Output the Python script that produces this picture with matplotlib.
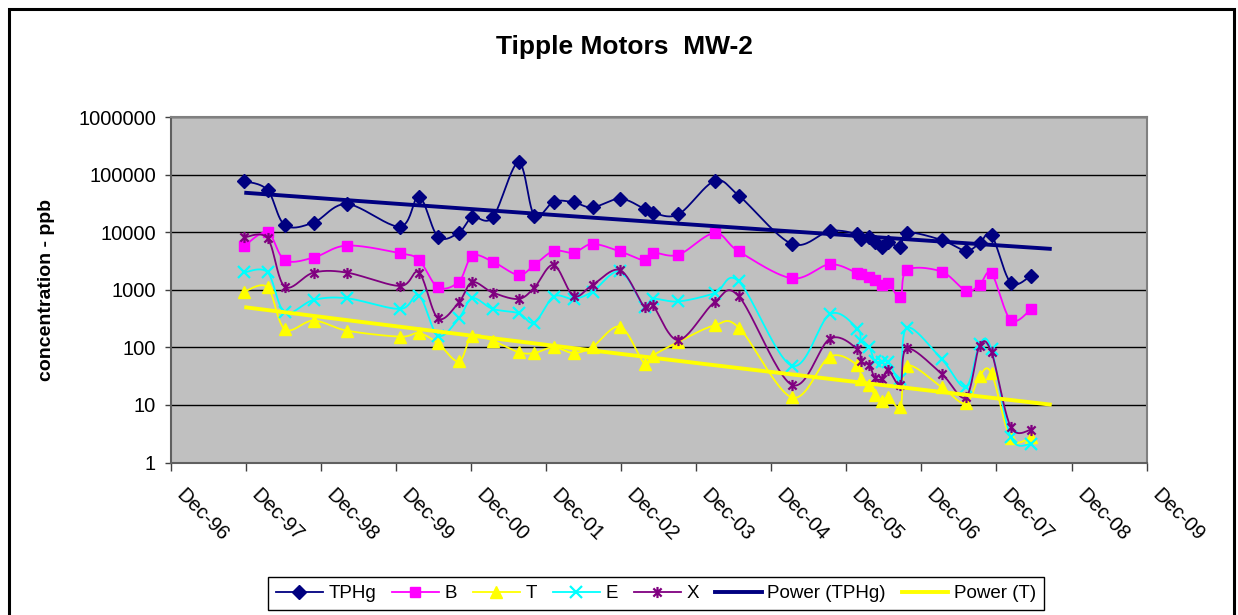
import matplotlib
matplotlib.use('Agg')
import numpy as np
import pandas as pd
import matplotlib.pyplot as plt
import matplotlib.dates as mdates
import matplotlib.transforms as mtransforms
from matplotlib.path import Path
from matplotlib.lines import Line2D
from matplotlib.patches import Rectangle

plt.rcParams['font.family'] = ['Liberation Sans', 'DejaVu Sans']

# ---------------- data ----------------
sample_dates = ['1997-11-24', '1998-03-17', '1998-06-09', '1998-10-27', '1999-04-07',
                '1999-12-22', '2000-03-23', '2000-06-23', '2000-10-03', '2000-12-07',
                '2001-03-17', '2001-07-20', '2001-10-05', '2002-01-07', '2002-04-14',
                '2002-07-15', '2002-11-27', '2003-03-25', '2003-05-04', '2003-09-06',
                '2004-02-29', '2004-06-26', '2005-03-11', '2005-09-11', '2006-01-24',
                '2006-02-10', '2006-03-23', '2006-04-17', '2006-05-22', '2006-06-23',
                '2006-08-21', '2006-09-22', '2007-03-09', '2007-07-05', '2007-09-10',
                '2007-11-07', '2008-02-08', '2008-05-18']
tphg = [78000, 54500, 13400, 14800, 31100, 12600, 41800, 8400, 9900, 18300,
        18300, 165000, 19500, 34200, 33300, 27200, 38500, 25500, 22000, 20600,
        78000, 43500, 6300, 10600, 9250, 7580, 8200, 6900, 5650, 6700,
        5650, 9900, 7380, 4820, 6460, 9000, 1340, 1770]
benz = [5800, 10000, 3300, 3640, 5900, 4330, 3300, 1110, 1390, 3890,
        3100, 1820, 2715, 4750, 4450, 6290, 4650, 3270, 4430, 4080,
        9730, 4650, 1590, 2790, 1945, 1880, 1700, 1490, 1220, 1310,
        745, 2220, 2080, 972, 1220, 1945, 300, 461]
tol = [934, 1110, 207, 293, 196, 154, 177, 118, 57, 160,
       130, 83, 80, 101, 80, 103, 229, 52, 72, 125,
       242, 221, 13.5, 69, 49, 28, 22, 15, 11.5, 14,
       9.2, 48, 20.5, 10.7, 32, 35.5, 2.65, 2.76]
ethyl = [2020, 2020, 409, 669, 716, 467, 796, 161, 321, 716,
         467, 393, 270, 765, 697, 934, 2100, 500, 698, 630,
         877, 1400, 48, 377, 212, 130, 100, 59, 56, 56,
         28.6, 220, 63, 20.6, 114, 93, 2.8, 2.1]
xyl = [8200, 7890, 1140, 2000, 2000, 1170, 2000, 321, 610, 1360,
       898, 697, 1097, 2715, 786, 1220, 2200, 500, 540, 134,
       615, 770, 22.4, 141, 93, 57, 49, 30, 28, 40,
       22.4, 96, 35, 13.6, 106, 82, 4.2, 3.7]
series_names = ['TPHg', 'B', 'T', 'E', 'X']
trend_names = ['Power (TPHg)', 'Power (T)']
tick_years = list(range(1996, 2010))
y_ticks = [1, 10, 100, 1000, 10000, 100000, 1000000]
title = 'Tipple Motors  MW-2'
ylabel = 'concentration - ppb'

# ---------------- helpers ----------------
def smooth(xs, ys, n=24):
    P = np.column_stack([np.asarray(xs, float), np.log10(np.asarray(ys, float))])
    segs = []
    m = len(P)
    for i in range(m - 1):
        p0 = P[max(i - 1, 0)]; p1 = P[i]; p2 = P[i + 1]; p3 = P[min(i + 2, m - 1)]
        c1 = p1 + (p2 - p0) / 6.0
        c2 = p2 - (p3 - p1) / 6.0
        t = np.linspace(0, 1, n)[:, None]
        B = ((1 - t) ** 3) * p1 + 3 * ((1 - t) ** 2) * t * c1 + 3 * (1 - t) * t ** 2 * c2 + t ** 3 * p2
        segs.append(B if i == m - 2 else B[:-1])
    S = np.vstack(segs)
    return S[:, 0], 10 ** S[:, 1]

# Excel serial-date based power fit
EXCEL_EPOCH = pd.Timestamp('1899-12-30')
def power_trend(dts, ys, forward_days=100, n=200):
    serial = np.array([(d - EXCEL_EPOCH).days for d in dts], float)
    b, lna = np.polyfit(np.log(serial), np.log(np.asarray(ys, float)), 1)
    xs = np.linspace(serial.min(), serial.max() + forward_days, n)
    yv = np.exp(lna) * xs ** b
    dnum = mdates.date2num(EXCEL_EPOCH) + xs
    return dnum, yv

# asterisk marker (x + vertical bar)
ast = Path([(-1, -1), (1, 1), (-1, 1), (1, -1), (0, -1.35), (0, 1.35)],
           [Path.MOVETO, Path.LINETO, Path.MOVETO, Path.LINETO, Path.MOVETO, Path.LINETO])

W, H = 1238, 615
fig = plt.figure(figsize=(W / 100, H / 100), dpi=100)
L, R, T, Bt = 170.7, 1146.7, 117.3, 462.5
ax = fig.add_axes([L / W, 1 - Bt / H, (R - L) / W, (Bt - T) / H])
ax.set_facecolor('#C0C0C0')

dts = pd.to_datetime(sample_dates)
xd = mdates.date2num(dts)

styles = [
    dict(color='#000080', marker='D', ms=7.5, mfc='#000080', mec='#000080', mew=1),
    dict(color='#FF00FF', marker='s', ms=7.5, mfc='#FF00FF', mec='#FF00FF', mew=1),
    dict(color='#FFFF00', marker='^', ms=9, mfc='#FFFF00', mec='#FFFF00', mew=1),
    dict(color='#00FFFF', marker='x', ms=8, mfc='none', mec='#00FFFF', mew=1.6),
    dict(color='#800080', marker=ast, ms=8, mfc='none', mec='#800080', mew=1.6),
]
all_vals = [tphg, benz, tol, ethyl, xyl]
handles = []
for k, (vals, st) in enumerate(zip(all_vals, styles)):
    sx, sy = smooth(xd, vals)
    ax.plot(sx, sy, color=st['color'], lw=1.3, zorder=3 + k)
    ax.plot(xd, vals, ls='none', marker=st['marker'], ms=st['ms'], mfc=st['mfc'],
            mec=st['mec'], mew=st['mew'], zorder=3 + k)
    handles.append(Line2D([], [], color=st['color'], lw=1.3, marker=st['marker'], ms=st['ms'],
                          mfc=st['mfc'], mec=st['mec'], mew=st['mew']))

for vals, col in [(tphg, '#000080'), (tol, '#FFFF00')]:
    tx, ty = power_trend(dts, vals)
    ax.plot(tx, ty, color=col, lw=2.8, zorder=10, solid_capstyle='butt')
    handles.append(Line2D([], [], color=col, lw=2.8))

ax.set_yscale('log')
ax.set_ylim(1, 1e6)
ax.set_yticks(y_ticks)
ax.set_yticklabels([str(v) for v in y_ticks])
ax.yaxis.set_minor_locator(matplotlib.ticker.NullLocator())
ax.yaxis.grid(True, which='major', color='black', lw=1.0)
ax.set_axisbelow(True)

xt = [mdates.date2num(pd.Timestamp(f'{y}-12-01')) for y in tick_years]
ax.set_xlim(xt[0], xt[-1])
ax.set_xticks(xt)
ax.set_xticklabels([pd.Timestamp(f'{y}-12-01').strftime('%b-%y') for y in tick_years])
ax.xaxis.set_minor_locator(matplotlib.ticker.NullLocator())

for s in ax.spines.values():
    s.set_color('#808080')
    s.set_linewidth(1.5)
ax.spines['bottom'].set_color('#606060')
ax.spines['left'].set_color('#606060')

ax.tick_params(axis='y', direction='out', length=4.5, width=1, color='#404040',
               labelsize=14.5, pad=6)
ax.tick_params(axis='x', direction='out', length=5.5, width=1, color='#404040',
               labelsize=14.5, pad=11)
off = mtransforms.ScaledTranslation(15 / 100, 0, fig.dpi_scale_trans)
for lab in ax.get_xticklabels():
    lab.set_rotation(-45)
    lab.set_ha('left')
    lab.set_va('top')
    lab.set_rotation_mode('anchor')
    lab.set_transform(lab.get_transform() + off)

fig.text(624 / W, 1 - 54.3 / H, title, ha='center', va='baseline', fontsize=19,
         fontweight='bold')
fig.text(47 / W, 1 - 290 / H, ylabel, rotation=90, ha='center', va='center',
         fontsize=14, fontweight='bold')

leg = fig.legend(handles, series_names + trend_names, loc='center',
                 bbox_to_anchor=(656 / W, 1 - 593.5 / H), ncol=7, fontsize=13.5,
                 frameon=True, fancybox=False, edgecolor='black', framealpha=1,
                 handlelength=2.5, handletextpad=0.3, columnspacing=0.85,
                 borderpad=0.4, borderaxespad=0)
leg.get_frame().set_linewidth(1.0)

fig.patches.append(Rectangle((9 / W, -0.05), (1234 - 9) / W, 1.05 - 8.5 / H,
                             transform=fig.transFigure, fill=False, ec='black', lw=2.2))

fig.savefig('out.png', dpi=100)
